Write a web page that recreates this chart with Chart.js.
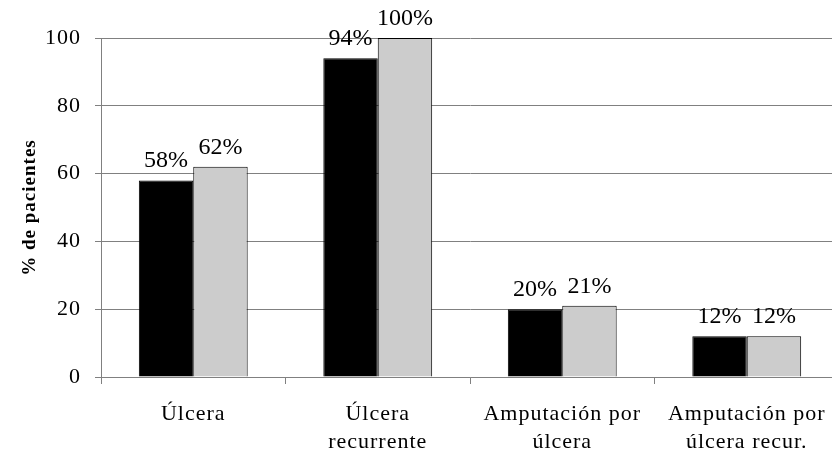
<!DOCTYPE html>
<html>
<head>
<meta charset="utf-8">
<script src="https://cdn.jsdelivr.net/npm/chart.js@4"></script>
<style>
  html, body { margin: 0; padding: 0; overflow: hidden; background: #fff; }
  #wrap { width: 845px; height: 451px; }
</style>
</head>
<body>
<div id="wrap"><canvas id="grafico"></canvas></div>
<script>
// Datos
const categorias = [['Úlcera'], ['Úlcera', 'recurrente'], ['Amputación por', 'úlcera'], ['Amputación por', 'úlcera recur.']];
const serieA = [58, 94, 20, 12];
const serieB = [62, 100, 21, 12];
const ticksY = [0, 20, 40, 60, 80, 100];

const fuente = "'Liberation Serif', 'Times New Roman', serif";

// Espaciado de letras para los ejes (como en el original)
const espaciado = {
    id: 'espaciado',
    beforeDraw(chart) { chart.ctx.letterSpacing = '1px'; },
    beforeDatasetsDraw(chart) { chart.ctx.letterSpacing = '0px'; }
};

// Etiquetas encima de las barras
const etiquetas = {
    id: 'etiquetas',
    afterDatasetsDraw(chart) {
        const ctx = chart.ctx;
        ctx.save();
        ctx.font = '24px ' + fuente;
        ctx.fillStyle = '#000';
        ctx.textAlign = 'center';
        ctx.textBaseline = 'alphabetic';
        chart.data.datasets.forEach((ds, i) => {
            chart.getDatasetMeta(i).data.forEach((bar, j) => {
                ctx.fillText(ds.data[j] + '%', bar.x, bar.y - 13);
            });
        });
        ctx.restore();
    }
};

const ctx = document.getElementById('grafico').getContext('2d');
new Chart(ctx, {
    type: 'bar',
    data: {
        labels: categorias,
        datasets: [
            { data: serieA, backgroundColor: '#000000', borderColor: '#000000', borderWidth: 1 },
            { data: serieB, backgroundColor: '#cccccc', borderColor: '#000000', borderWidth: 1 }
        ]
    },
    options: {
        responsive: true,
        maintainAspectRatio: false,
        animation: false,
        layout: { padding: { top: 38, right: 6, left: 0, bottom: 0 } },
        plugins: {
            legend: { display: false },
            tooltip: { enabled: false }
        },
        datasets: { bar: { barPercentage: 1, categoryPercentage: 0.59 } },
        scales: {
            x: {
                grid: { offset: true, drawOnChartArea: false, drawTicks: true, tickLength: 7, color: '#808080' },
                border: { color: '#808080' },
                ticks: { color: '#000', font: { family: fuente, size: 22, lineHeight: 1.27 }, padding: 16, maxRotation: 0 },
                afterFit(scale) { scale.height = 74; }
            },
            y: {
                min: 0,
                max: 100,
                afterBuildTicks(scale) { scale.ticks = ticksY.map(v => ({ value: v })); },
                grid: { color: '#808080', tickLength: 6 },
                border: { color: '#808080' },
                ticks: { color: '#000', font: { family: fuente, size: 22 }, padding: 14 },
                title: { display: true, text: '% de pacientes', color: '#000', font: { family: fuente, size: 19, weight: 'bold' }, padding: { top: 19, bottom: 0 } },
                afterFit(scale) { scale.width = 101; }
            }
        }
    },
    plugins: [espaciado, etiquetas]
});
</script>
</body>
</html>
